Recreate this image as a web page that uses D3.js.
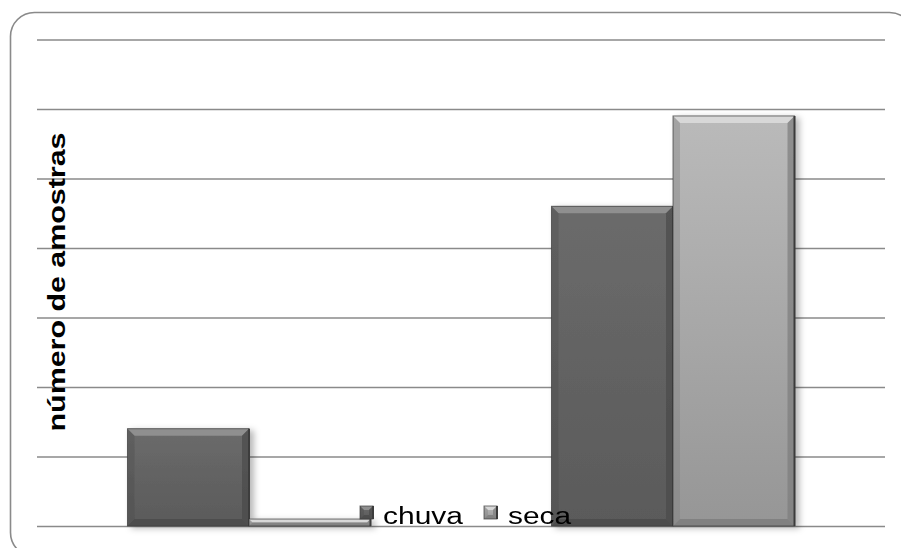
<!DOCTYPE html>
<html>
<head>
<meta charset="utf-8">
<script src="https://cdn.jsdelivr.net/npm/d3@7/dist/d3.min.js"></script>
<style>
  html, body { margin: 0; padding: 0; background: #fff; }
  svg { display: block; }
</style>
</head>
<body>
<svg id="chart" width="901" height="548"></svg>
<script>
// Sample counts per group, rainy (chuva) vs dry (seca) season
const categories = ["A", "B"];
const seriesNames = ["chuva", "seca"];
const chuva = [14, 46];
const seca = [1, 59];
const yTicks = [0, 10, 20, 30, 40, 50, 60, 70];
const yTitle = "número de amostras";

const W = 901, H = 548;
const margin = { left: 37, right: 16, top: 39.5, bottom: 22 };
const svg = d3.select("#chart");
const defs = svg.append("defs");

// frame with rounded corners
svg.append("rect")
  .attr("x", 10.5).attr("y", 12.5)
  .attr("width", 903).attr("height", 544)
  .attr("rx", 24).attr("ry", 24)
  .attr("fill", "none").attr("stroke", "#8a8a8a").attr("stroke-width", 1.6);

const x0 = d3.scaleBand().domain(categories).range([margin.left, W - margin.right]);
const x1 = d3.scaleBand().domain(seriesNames)
  .range([x0.bandwidth() * 0.2134, x0.bandwidth() * 0.7866]);
const y = d3.scaleLinear().domain([0, 70]).range([H - margin.bottom, margin.top]);

// horizontal gridlines
svg.append("g")
  .attr("transform", `translate(${margin.left},0)`)
  .call(d3.axisLeft(y).tickValues(yTicks).tickSize(-(W - margin.right - margin.left)).tickFormat(""))
  .call(g => g.select(".domain").remove())
  .call(g => g.selectAll(".tick line").attr("stroke", "#8a8a8a").attr("stroke-width", 1.5));

// bar shadow
const shadow = defs.append("filter").attr("id", "shadow")
  .attr("x", "-10%").attr("y", "-10%").attr("width", "130%").attr("height", "130%");
shadow.append("feDropShadow").attr("dx", 4).attr("dy", 2)
  .attr("stdDeviation", 3).attr("flood-color", "#000").attr("flood-opacity", 0.28);

const palette = {
  chuva: { top: "#6b6b6b", bottom: "#5a5a5a", light: "#939393", dark: "#4a4a4a", edge: "#3c3c3c" },
  seca:  { top: "#bababa", bottom: "#969696", light: "#dcdcdc", dark: "#7c7c7c", edge: "#3a3a3a" }
};

seriesNames.forEach(s => {
  const p = palette[s];
  const gr = defs.append("linearGradient").attr("id", "grad-" + s)
    .attr("x1", 0).attr("y1", 0).attr("x2", 0).attr("y2", 1);
  gr.append("stop").attr("offset", "0%").attr("stop-color", p.top);
  gr.append("stop").attr("offset", "100%").attr("stop-color", p.bottom);
});

// beveled box, used for bars and legend keys
function bevelBox(g, x, yTop, w, h, s, bevel) {
  const p = palette[s];
  const b = Math.min(bevel, h / 2, w / 2);
  const box = g.append("g");
  box.append("rect").attr("x", x).attr("y", yTop).attr("width", w).attr("height", h)
    .attr("fill", `url(#grad-${s})`);
  const poly = (pts, fill, op) => box.append("polygon")
    .attr("points", pts.map(d => d.join(",")).join(" "))
    .attr("fill", fill).attr("opacity", op);
  poly([[x, yTop], [x + w, yTop], [x + w - b, yTop + b], [x + b, yTop + b]], p.light, 0.9);
  poly([[x, yTop], [x + b, yTop + b], [x + b, yTop + h - b], [x, yTop + h]], p.dark, 0.35);
  poly([[x + w, yTop], [x + w, yTop + h], [x + w - b, yTop + h - b], [x + w - b, yTop + b]], p.dark, 0.7);
  poly([[x, yTop + h], [x + b, yTop + h - b], [x + w - b, yTop + h - b], [x + w, yTop + h]], p.dark, 0.8);
  box.append("rect").attr("x", x).attr("y", yTop).attr("width", w).attr("height", h)
    .attr("fill", "none").attr("stroke", p.edge).attr("stroke-width", 1).attr("opacity", 0.7);
  box.append("line").attr("x1", x + w).attr("x2", x + w).attr("y1", yTop).attr("y2", yTop + h)
    .attr("stroke", p.edge).attr("stroke-width", 2);
  return box;
}

const data = categories.map((c, i) => ({ cat: c, chuva: chuva[i], seca: seca[i] }));
const bars = svg.append("g").attr("filter", "url(#shadow)");
data.forEach(d => {
  seriesNames.forEach(s => {
    const bx = x0(d.cat) + x1(s);
    const by = y(d[s]);
    bevelBox(bars, bx, by, x1.bandwidth(), y(0) - by, s, 7);
  });
});

// y-axis title
svg.append("text")
  .attr("transform", `translate(65,${(132 + 432) / 2}) rotate(-90)`)
  .attr("text-anchor", "middle")
  .attr("font-family", "Liberation Sans, Arial, sans-serif")
  .attr("font-weight", "bold").attr("font-size", 23)
  .attr("textLength", 299).attr("lengthAdjust", "spacingAndGlyphs")
  .attr("fill", "#000")
  .text(yTitle);

// legend
const legend = svg.append("g");
const legendItems = [
  { s: "chuva", kx: 360, tx: 383, len: 80 },
  { s: "seca", kx: 484, tx: 508, len: 63 }
];
legendItems.forEach(it => {
  bevelBox(legend, it.kx, 506, 13, 13, it.s, 4);
  legend.append("text")
    .attr("x", it.tx).attr("y", 524)
    .attr("font-family", "Liberation Sans, Arial, sans-serif")
    .attr("font-size", 23.5)
    .attr("textLength", it.len).attr("lengthAdjust", "spacingAndGlyphs")
    .attr("fill", "#000")
    .text(it.s);
});
</script>
</body>
</html>
